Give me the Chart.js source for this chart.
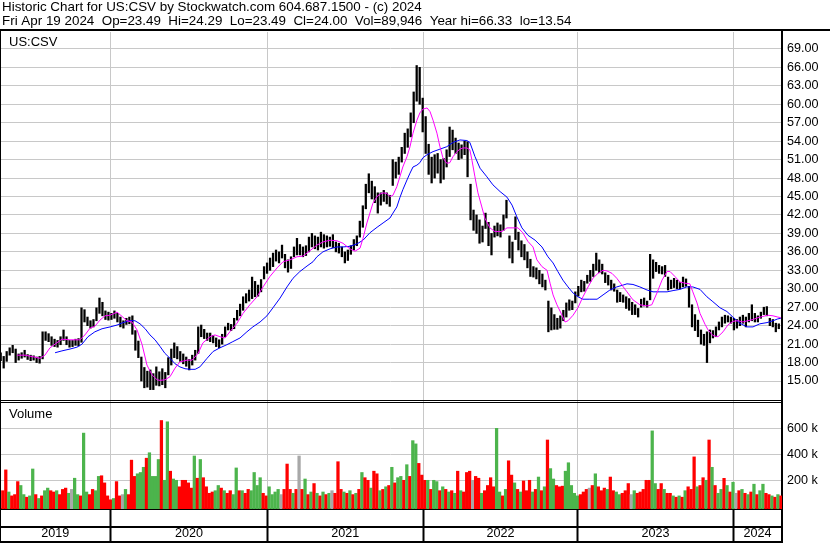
<!DOCTYPE html>
<html>
<head>
<meta charset="utf-8">
<title>US:CSV</title>
<script src="https://cdn.jsdelivr.net/npm/chart.js@4.4.1/dist/chart.umd.min.js"></script>
<style>
	html, body { margin:0; padding:0; background:#fff; }
	#grafico { display:block; }
</style>
</head>
<body>
<canvas id="grafico" width="830" height="543"></canvas>
<script>
// dados: uma barra por semana, indice 0 = fim de abril 2019
var titulo1 = "Historic Chart for US:CSV by Stockwatch.com 604.687.1500 - (c) 2024";
var titulo2 = "Fri Apr 19 2024  Op=23.49  Hi=24.29  Lo=23.49  Cl=24.00  Vol=89,946  Year hi=66.33  lo=13.54";

var anos = ["2019","2020","2021","2022","2023","2024"];
var inicioAno = [36.4, 88.9, 140.9, 192.5, 244.5];   // semana onde comeca cada ano
var primeiraSemana = -0.5;
var ultimaSemana = 260.8;

var precoTicks = [15,18,21,24,27,30,33,36,39,42,45,48,51,54,57,60,63,66,69];
var volumeTicks = [200000, 400000, 600000];

var maximas = [
	19.6,19.0,19.8,20.4,20.8,20.2,19.4,19.6,20.0,19.3,
	19.2,19.1,18.9,19.0,23.0,23.0,22.7,22.2,21.8,21.6,
	22.2,23.3,22.2,21.6,21.6,21.8,21.9,26.9,26.6,25.4,
	24.8,25.0,26.9,28.5,27.8,26.4,26.2,26.0,26.4,26.0,
	25.4,24.8,25.2,25.4,25.6,23.2,21.5,18.9,17.2,16.6,
	16.8,16.2,17.3,16.5,17.0,16.4,18.8,20.2,21.2,20.6,
	19.8,19.4,18.9,18.5,19.2,20.0,23.8,24.1,23.4,22.8,
	22.8,22.4,22.0,21.7,22.6,23.8,24.4,24.2,25.2,26.5,
	27.5,28.7,29.2,29.8,31.9,31.2,30.6,31.5,33.6,34.2,
	35.0,35.8,36.3,36.0,37.1,35.6,34.7,35.2,36.8,38.2,
	37.2,36.8,37.0,38.4,39.0,38.6,38.4,39.2,38.8,38.6,
	38.4,38.8,37.6,37.4,36.8,36.0,36.3,37.0,38.0,38.6,
	41.0,43.5,47.0,48.7,47.5,46.6,45.6,45.6,46.0,45.6,
	45.2,51.0,50.6,51.4,53.0,55.3,56.0,58.6,62.0,66.3,
	66.0,61.0,58.0,53.5,51.4,51.8,52.0,51.0,51.2,52.6,
	56.3,55.8,54.5,53.7,53.4,54.0,53.9,47.0,42.8,42.0,
	41.2,40.2,42.3,40.8,39.0,40.2,40.7,40.4,42.0,44.4,
	38.6,37.6,41.7,39.2,37.8,37.2,36.0,34.8,33.6,33.4,
	33.0,32.4,31.4,28.0,26.9,25.8,25.2,25.6,26.5,27.7,
	28.2,28.0,29.5,30.4,31.4,31.2,32.2,33.0,34.0,35.8,
	34.7,34.0,32.6,32.2,31.4,30.8,29.8,29.4,29.0,28.7,
	28.4,27.8,27.4,26.8,28.3,28.5,28.0,35.6,34.7,34.3,
	33.8,33.6,33.8,31.9,31.4,31.7,31.4,31.0,31.9,31.6,
	30.4,27.4,25.8,24.9,23.3,22.6,23.0,23.3,23.2,23.8,
	24.6,25.4,25.7,25.6,25.4,25.2,25.0,25.4,25.7,25.4,
	26.0,27.4,26.0,25.6,26.2,27.0,27.1,25.2,25.0,24.4,24.3
];

var minimas = [
	18.3,17.1,18.2,19.2,19.6,18.0,18.4,18.7,18.9,18.5,
	18.3,18.4,18.0,17.9,18.6,21.6,21.4,20.8,20.6,20.5,
	20.9,21.6,20.9,20.5,20.6,20.8,20.7,21.3,24.6,24.0,
	23.6,23.8,24.8,26.0,25.6,25.0,24.9,25.0,25.2,24.6,
	23.8,23.6,24.2,24.3,22.6,20.0,18.8,15.0,13.9,14.0,
	13.6,13.6,14.3,14.2,14.4,13.9,16.0,17.6,18.8,18.6,
	18.2,17.8,17.4,16.8,17.6,18.4,19.5,22.2,21.9,21.6,
	21.4,21.2,20.6,20.4,21.0,22.2,23.3,23.2,23.5,24.9,
	25.6,26.5,27.7,28.0,28.4,28.7,28.8,29.5,31.6,32.5,
	33.0,33.6,34.5,34.2,35.0,33.4,32.7,33.3,35.2,35.5,
	35.5,35.2,35.4,36.0,36.8,36.5,36.3,36.8,36.6,36.8,
	36.9,36.7,36.0,35.8,35.2,34.2,34.6,35.6,36.3,37.0,
	38.4,40.0,43.0,45.6,44.6,44.0,42.3,43.6,44.2,43.8,
	43.4,46.8,48.0,48.6,50.6,52.0,53.0,54.7,57.0,60.5,
	60.0,55.5,52.0,48.6,47.2,48.0,48.8,47.2,47.8,49.8,
	51.5,52.6,52.0,51.0,51.2,51.8,48.2,41.2,39.5,39.0,
	37.4,37.6,39.8,37.0,35.5,38.4,38.6,38.4,39.5,41.5,
	35.0,34.2,38.0,36.3,35.2,34.7,33.4,32.0,31.9,31.6,
	30.8,30.3,29.8,23.0,23.3,23.4,23.4,23.6,24.8,25.4,
	26.5,26.6,27.7,28.8,29.5,29.6,30.9,31.2,32.0,33.0,
	32.6,32.4,31.0,30.6,29.8,29.6,27.8,27.9,27.8,26.8,
	26.5,25.8,25.8,25.4,27.0,27.2,27.0,28.2,31.7,32.8,
	32.5,32.4,32.0,29.8,30.0,30.2,30.0,30.0,30.3,30.4,
	27.0,23.8,23.2,22.2,21.0,20.8,18.0,21.2,22.0,22.2,
	23.3,23.8,24.4,24.6,24.4,23.3,23.6,24.0,24.4,23.8,
	24.6,24.8,24.6,24.6,25.2,25.8,25.6,24.0,23.8,23.0,23.5
];

// volume em milhares
var volumes = [
	120,280,110,80,90,190,160,90,70,80,
	287,90,60,80,120,140,120,110,120,90,
	130,140,100,130,216,90,80,563,110,90,
	130,120,230,235,180,80,50,60,190,80,
	90,130,90,355,230,250,260,300,370,412,
	230,230,360,660,200,650,270,210,200,150,
	200,200,180,140,387,216,360,220,150,100,
	110,120,160,140,120,100,120,90,295,120,
	120,100,130,120,260,160,220,100,80,150,
	90,110,130,90,130,325,130,100,130,387,
	130,210,90,110,175,100,80,110,90,100,
	120,100,343,130,110,100,120,90,100,130,
	260,220,200,140,270,250,120,130,150,160,
	300,180,220,230,200,320,230,505,480,330,
	240,200,200,130,200,190,120,150,130,110,
	120,100,270,120,110,260,270,200,230,216,
	100,120,160,220,150,600,110,80,130,350,
	240,180,130,110,195,120,200,110,130,225,
	120,150,510,290,210,160,150,155,270,335,
	160,100,80,90,110,130,140,160,250,150,
	120,140,130,225,120,110,90,100,120,175,
	90,120,100,110,130,200,200,580,175,130,
	175,130,100,100,80,70,80,70,120,150,
	130,380,150,160,220,200,510,300,160,100,
	130,215,160,110,185,100,120,130,100,90,
	110,170,90,120,170,100,90,80,70,90,80
];

// u = alta, d = baixa, n = sem variacao
var direcao = [
	"dduddduudu","ududuuddud","ddunuuduud","duuddddudd","nuddduuudu",
	"uuuduuduud","ddddududdd","duududduud","udduuuuddu","uuundddudn",
	"dududududu","ndddududud","udduddudud","uduududuud","dduduududu",
	"dududddndd","udddduudud","dududddudu","duduuddduu","uuudddndud",
	"ddudduuddd","nuddddduud","duddududud","dduddududu","ududundudu",
	"duduuddudud"
].join("");

// medias moveis: [semana, valor]
var mediaCurta = [
	[5.2,19.2],[7.9,19.2],[10.5,18.95],[12.9,18.7],[14.5,19.2],[16.2,20.4],[17.9,21.0],[20.2,21.8],
	[22.9,21.7],[26.2,21.7],[27.9,22.5],[29.6,23.6],[31.2,23.9],[32.9,24.9],[34.6,25.6],[36.3,25.7],
	[38.6,26.2],[40.3,25.5],[41.9,24.8],[43.6,24.6],[45.3,23.3],[47.0,20.9],[48.6,17.6],[50.3,16.0],
	[52.0,15.2],[53.0,15.1],[54.6,15.2],[56.3,15.7],[58.0,17.1],[59.6,18.1],[62.0,18.4],[63.7,18.4],
	[65.7,19.5],[67.3,21.2],[69.7,22.2],[71.3,22.5],[73.0,22.2],[74.7,22.0],[76.3,23.0],[78.7,24.4],
	[80.7,26.0],[83.0,27.4],[85.4,28.7],[87.4,30.3],[89.7,32.0],[92.1,33.4],[94.1,34.4],[96.4,34.7],
	[98.7,35.2],[100.7,35.3],[103.1,36.2],[105.4,37.1],[107.4,37.6],[109.8,37.9],[112.1,37.8],[114.1,37.4],
	[116.4,36.5],[118.1,36.1],[119.8,36.6],[120.8,38.2],[122.1,40.7],[123.1,42.3],[124.1,43.9],[125.5,45.0],
	[126.5,45.4],[127.5,45.6],[128.8,45.5],[129.8,45.0],[130.8,45.2],[132.1,46.6],[133.1,48.2],[134.1,49.8],
	[135.5,51.5],[136.5,53.1],[137.5,55.3],[138.8,57.4],[139.8,58.6],[140.8,59.2],[142.2,59.4],[143.2,58.8],
	[144.2,57.4],[145.5,55.3],[146.5,53.1],[147.5,51.3],[148.8,50.4],[149.8,50.5],[150.9,51.5],[152.2,52.3],
	[153.2,52.7],[154.2,52.9],[155.5,52.9],[156.5,52.6],[157.2,50.9],[158.2,48.2],[159.2,45.6],[160.5,43.3],
	[161.5,41.5],[163.2,39.9],[164.9,39.3],[167.2,39.3],[168.9,39.9],[170.6,39.9],[172.6,39.9],[174.2,39.1],
	[175.9,37.7],[177.6,36.8],[178.9,34.7],[180.6,33.6],[182.3,33.0],[183.3,30.9],[184.3,29.0],[185.6,27.4],
	[187.3,25.7],[188.3,24.6],[189.3,24.8],[191.0,25.7],[192.6,26.9],[194.3,28.7],[196.0,30.3],[197.6,31.7],
	[199.3,32.5],[201.0,33.0],[202.3,32.9],[204.0,32.5],[205.6,31.7],[207.3,30.6],[209.0,29.5],[211.0,28.2],
	[213.3,27.4],[215.7,27.2],[217.3,27.4],[219.0,29.3],[220.7,31.4],[222.4,32.8],[223.4,32.8],[225.0,32.0],
	[226.7,31.1],[228.4,30.9],[230.0,30.8],[231.0,29.5],[232.4,27.7],[233.4,26.0],[235.1,24.2],[236.1,23.3],
	[237.7,22.4],[239.4,22.2],[241.1,23.0],[242.7,24.1],[244.4,24.7],[246.1,24.8],[247.7,24.6],[249.4,24.8],
	[251.1,25.0],[252.8,25.3],[254.4,25.5],[256.1,25.7],[257.8,25.6],[259.4,25.4],[260.4,25.3]
];

var mediaLonga = [
	[17.9,19.6],[20.2,19.9],[22.9,20.2],[25.2,20.5],[26.9,21.0],[28.9,22.2],[31.2,23.0],[33.6,23.5],
	[36.3,23.8],[38.6,24.1],[40.6,24.5],[42.9,24.8],[44.6,24.8],[46.3,24.3],[48.0,23.5],[49.6,22.5],
	[51.3,21.7],[53.0,20.6],[54.6,19.5],[56.3,18.7],[58.0,17.8],[59.6,17.3],[61.3,17.0],[63.0,16.9],
	[64.7,16.9],[66.3,17.3],[68.7,18.7],[70.7,19.8],[73.0,20.4],[75.3,20.9],[77.3,21.4],[79.7,22.0],
	[82.0,23.0],[84.0,23.8],[86.4,24.6],[88.7,25.6],[90.7,26.9],[93.1,28.5],[95.4,30.3],[97.4,31.7],
	[99.7,32.8],[102.1,33.7],[104.1,34.4],[105.4,35.2],[107.4,36.0],[109.8,36.5],[112.1,36.8],[114.1,36.8],
	[116.4,36.9],[118.8,37.3],[120.8,37.9],[123.1,39.1],[125.5,40.0],[127.5,40.7],[129.8,41.5],[130.8,42.3],
	[132.1,43.3],[133.1,44.8],[134.1,46.1],[135.5,47.7],[136.5,48.8],[137.5,49.8],[138.8,50.1],[139.8,50.5],
	[140.8,51.3],[142.2,51.8],[144.2,52.3],[146.5,52.7],[148.8,53.1],[150.9,53.8],[153.2,54.2],[155.5,54.1],
	[156.5,53.8],[158.2,51.5],[159.9,49.6],[162.2,48.2],[164.2,46.9],[166.6,45.8],[168.9,44.9],[170.6,43.6],
	[172.2,41.7],[173.9,39.9],[175.9,38.7],[178.3,37.9],[180.6,36.8],[182.6,35.2],[184.3,34.2],[185.9,32.8],
	[187.6,31.4],[189.3,30.3],[191.0,29.3],[192.6,28.7],[194.3,28.3],[196.6,28.3],[199.0,28.3],[201.0,29.0],
	[203.3,29.8],[205.6,30.3],[207.7,30.6],[209.0,30.8],[211.0,30.7],[213.3,30.3],[215.7,29.8],[217.7,29.5],
	[220.0,29.5],[222.4,29.5],[224.4,29.7],[226.7,29.9],[229.0,30.3],[231.0,30.3],[233.4,29.9],[235.7,28.7],
	[237.7,27.9],[240.1,26.9],[242.4,26.3],[244.4,25.4],[246.7,24.4],[249.1,23.8],[251.1,23.8],[253.4,24.3],
	[255.8,24.5],[257.8,24.8],[259.4,25.1],[260.4,25.2]
];

var FONTE = '"Liberation Sans", Arial, sans-serif';
var coresVolume = { u : '#4cb44c', d : '#ff0000', n : '#a8a8a8' };

// marcas do eixo x: divisoes entre anos e o meio de cada ano (rotulo)
var limites = [primeiraSemana].concat(inicioAno).concat([ultimaSemana]);
var marcas = [];
for(var i=0; i<anos.length; i++){
	marcas.push({ value : (limites[i]+limites[i+1])/2, rotulo : anos[i], divisa : false });
	if(i < inicioAno.length){
		marcas.push({ value : inicioAno[i], rotulo : "", divisa : true });
	}
}

var barrasPreco = [];
var barrasVolume = [];
var corBarras = [];
for(var i=0; i<maximas.length; i++){
	barrasPreco.push({ x : i, y : [minimas[i], maximas[i]] });
	barrasVolume.push({ x : i, y : volumes[i]*1000 });
	corBarras.push(coresVolume[direcao.charAt(i)] || coresVolume.u);
}
function pares(lista){
	var out = [];
	for(var i=0; i<lista.length; i++){ out.push({ x : lista[i][0], y : lista[i][1] }); }
	return out;
}

var moldura = {
	id : 'moldura',
	beforeDraw : function(chart){
		var c = chart.ctx;
		c.save();
		c.fillStyle = '#fff';
		c.fillRect(0, 0, chart.width, chart.height);
		c.restore();
	},
	afterDraw : function(chart){
		var c = chart.ctx, a = chart.chartArea;
		var yp = chart.scales.y;
		c.save();
		c.fillStyle = '#000';
		c.textBaseline = 'alphabetic';
		c.font = '13.4px ' + FONTE;
		c.fillText(titulo1, 2, 11);
		c.fillText(titulo2, 2, 25);
		c.fillRect(0, 29, chart.width, 2);
		c.fillRect(0, 31, 1, chart.height - 31);
		// linha dupla entre preco e volume
		c.fillRect(0, Math.round(yp.bottom) - 1, a.right, 1);
		c.fillRect(0, Math.round(yp.bottom) + 1, a.right, 1);
		c.fillRect(0, a.bottom + 17, a.right, 2);
		c.fillRect(0, chart.height - 2, a.right + 1, 2);
		c.fillRect(a.right - 1, a.bottom, 2, chart.height - a.bottom);
		c.font = '13px ' + FONTE;
		c.fillText('US:CSV', 9, a.top + 14);
		c.fillText('Volume', 9, yp.bottom + 17);
		c.restore();
	}
};

var ctx = document.getElementById("grafico");
var chartGraph = new Chart(ctx, {
	type : 'bar',
	data : {
		datasets : [ {
			type : 'line',
			data : pares(mediaCurta),
			borderColor : '#ff00ff',
			borderWidth : 1,
			pointRadius : 0,
			yAxisID : 'y',
			order : 1
		}, {
			type : 'line',
			data : pares(mediaLonga),
			borderColor : '#0000ff',
			borderWidth : 1,
			pointRadius : 0,
			yAxisID : 'y',
			order : 2
		}, {
			data : barrasPreco,
			backgroundColor : '#000',
			barThickness : 1.6,
			yAxisID : 'y',
			order : 3
		}, {
			data : barrasVolume,
			backgroundColor : corBarras,
			barThickness : 2.6,
			base : -20800,
			yAxisID : 'yv',
			order : 4
		} ]
	},
	options : {
		responsive : false,
		animation : false,
		devicePixelRatio : 1,
		layout : { padding : { top : 32, left : 0, right : 0, bottom : 0 } },
		plugins : { legend : { display : false }, tooltip : { enabled : false } },
		scales : {
			x : {
				type : 'linear',
				min : primeiraSemana,
				max : ultimaSemana,
				offset : false,
				afterBuildTicks : function(s){ s.ticks = marcas.map(function(m){ return { value : m.value }; }); },
				afterFit : function(s){ s.height = 34; },
				grid : {
					offset : false,
					color : function(c){ return marcas[c.index] && marcas[c.index].divisa ? '#c8c8c8' : 'rgba(0,0,0,0)'; },
					tickColor : function(c){ return marcas[c.index] && marcas[c.index].divisa ? '#000' : 'rgba(0,0,0,0)'; },
					tickLength : 32,
					tickWidth : 2
				},
				border : { display : true, color : '#000', width : 2 },
				ticks : {
					autoSkip : false,
					maxRotation : 0,
					minRotation : 0,
					padding : -15,
					color : '#000',
					font : { family : FONTE, size : 12.6 },
					callback : function(v, idx){ return marcas[idx] ? marcas[idx].rotulo : ''; }
				}
			},
			y : {
				type : 'linear',
				position : 'right',
				stack : 'painel',
				stackWeight : 369,
				min : 11.75,
				max : 71.75,
				afterBuildTicks : function(s){ s.ticks = precoTicks.map(function(v){ return { value : v }; }); },
				afterFit : function(s){ s.width = 48; },
				grid : { color : '#c8c8c8', drawTicks : false },
				border : { display : true, color : '#000', width : 2 },
				ticks : {
					autoSkip : false,
					padding : 5,
					color : '#000',
					font : { family : FONTE, size : 12.6 },
					callback : function(v){ return v.toFixed(2); }
				}
			},
			yv : {
				type : 'linear',
				position : 'right',
				stack : 'painel',
				stackWeight : 108,
				min : -20800,
				max : 810000,
				afterBuildTicks : function(s){ s.ticks = volumeTicks.map(function(v){ return { value : v }; }); },
				afterFit : function(s){ s.width = 48; },
				grid : { color : '#c8c8c8', drawTicks : false },
				border : { display : true, color : '#000', width : 2 },
				ticks : {
					autoSkip : false,
					padding : 5,
					color : '#000',
					font : { family : FONTE, size : 12.6 },
					callback : function(v){ return (v/1000) + ' k'; }
				}
			}
		}
	},
	plugins : [ moldura ]
});
</script>
</body>
</html>
